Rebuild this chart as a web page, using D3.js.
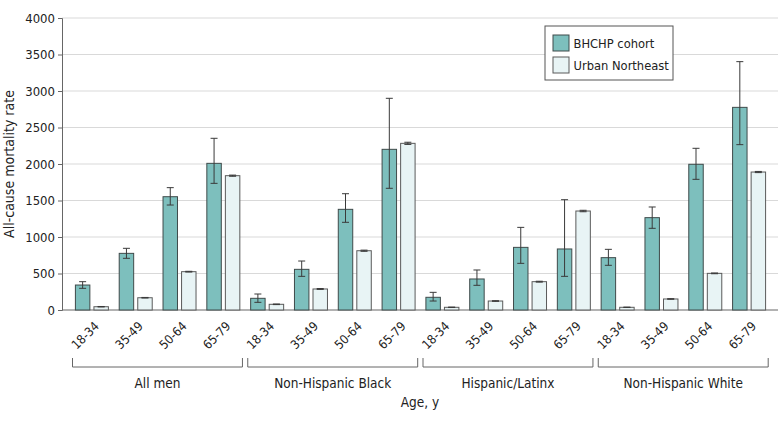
<!DOCTYPE html>
<html><head>
<meta charset="UTF-8">
<title>All-cause mortality rate by age</title>
<script src="https://d3js.org/d3.v7.min.js"></script>
<style>
  body { margin: 0; background: #fff; }
  svg text { font-family: "DejaVu Sans Condensed", "Liberation Sans", sans-serif; fill: #222; }
  .grid line { stroke: #d9d9d9; stroke-width: 1.2px; }
  .err { stroke: #3a3a3a; stroke-width: 1px; }
</style>
</head>
<body>
<script>

// groups and age bands (x axis)
var groups = ["All men", "Non-Hispanic Black", "Hispanic/Latinx", "Non-Hispanic White"];
var ages = ["18-34", "35-49", "50-64", "65-79"];
var series = ["BHCHP cohort", "Urban Northeast"];

// rates, one per group x age band
var bhchp   = [342, 776, 1552, 2009,  160, 557, 1379, 2201,  174, 425, 858, 836,   717, 1265, 1996, 2776];
var bhchpLo = [297, 708, 1438, 1735,  105, 461, 1201, 1667,  123, 338, 639, 461,   612, 1119, 1790, 2265];
var bhchpHi = [388, 845, 1676, 2352,  219, 671, 1593, 2900,  242, 548, 1132, 1511, 831, 1411, 2215, 3402];

var urban   = [45, 168, 525, 1840,  78, 288, 812, 2283,  37, 123, 388, 1356,  37, 151, 502, 1890];
var urbanLo = [42, 164, 520, 1832,  74, 282, 804, 2268,  34, 119, 382, 1346,  35, 147, 497, 1882];
var urbanHi = [48, 172, 530, 1848,  82, 294, 820, 2298,  40, 127, 394, 1366,  39, 155, 507, 1898];

var yTicks = [0, 500, 1000, 1500, 2000, 2500, 3000, 3500, 4000];

var colors = {bhchp: "#7dbfbd", urban: "#e8f4f5"};

var width = 780, height = 423;
var plotLeft = 62, plotRight = 778, plotTop = 18, plotBottom = 310;

var svg = d3.select("body").append("svg")
    .attr("width", width)
    .attr("height", height);

// one cell per group x age
var cells = d3.range(groups.length * ages.length);

var x = d3.scaleBand()
    .domain(cells)
    .range([70, 771]);

var inner = d3.scaleBand()
    .domain(series)
    .range([5.4, 38.4])
    .paddingInner(0.22);

var y = d3.scaleLinear()
    .domain([0, 4000])
    .range([plotBottom, plotTop]);

// grid lines
svg.append("g").attr("class", "grid")
  .selectAll("line")
  .data(yTicks.slice(1))
  .enter().append("line")
    .attr("x1", plotLeft).attr("x2", plotRight)
    .attr("y1", function(d){ return y(d); })
    .attr("y2", function(d){ return y(d); });

// y axis
var yAxis = d3.axisLeft(y).tickValues(yTicks).tickFormat(d3.format("d")).tickSize(4).tickPadding(3);
var gy = svg.append("g")
    .attr("transform", "translate(" + plotLeft + ",0)")
    .call(yAxis);
gy.select(".domain").attr("stroke", "#666");
gy.selectAll(".tick line").attr("stroke", "#666");
gy.selectAll(".tick text")
    .style("font-size", "13px")
    .style("font-family", "\"DejaVu Sans Condensed\", sans-serif")
    .attr("fill", "#222");

// baseline
svg.append("line")
    .attr("x1", plotLeft).attr("x2", plotRight)
    .attr("y1", plotBottom).attr("y2", plotBottom)
    .attr("stroke", "#666");

// y title
svg.append("text")
    .attr("transform", "translate(14," + ((plotTop + plotBottom) / 2) + ") rotate(-90)")
    .attr("text-anchor", "middle")
    .style("font-size", "14px")
    .text("All-cause mortality rate");

// bars
function drawSeries(vals, lo, hi, name, fill, stroke) {
  var g = svg.append("g");
  g.selectAll("rect")
    .data(cells)
    .enter().append("rect")
      .attr("x", function(i){ return x(i) + inner(name); })
      .attr("y", function(i){ return y(vals[i]); })
      .attr("width", inner.bandwidth())
      .attr("height", function(i){ return y(0) - y(vals[i]); })
      .attr("fill", fill)
      .attr("stroke", stroke)
      .attr("stroke-width", 1);

  // error bars
  var e = g.selectAll(".errbar")
    .data(cells)
    .enter().append("g").attr("class", "err");
  var cx = function(i){ return x(i) + inner(name) + inner.bandwidth() / 2; };
  e.append("line")
    .attr("x1", cx).attr("x2", cx)
    .attr("y1", function(i){ return y(lo[i]); })
    .attr("y2", function(i){ return y(hi[i]); });
  e.append("line")
    .attr("x1", function(i){ return cx(i) - 3.5; })
    .attr("x2", function(i){ return cx(i) + 3.5; })
    .attr("y1", function(i){ return y(hi[i]); })
    .attr("y2", function(i){ return y(hi[i]); });
  e.append("line")
    .attr("x1", function(i){ return cx(i) - 3.5; })
    .attr("x2", function(i){ return cx(i) + 3.5; })
    .attr("y1", function(i){ return y(lo[i]); })
    .attr("y2", function(i){ return y(lo[i]); });
}

drawSeries(bhchp, bhchpLo, bhchpHi, series[0], colors.bhchp, "#3f4a4a");
drawSeries(urban, urbanLo, urbanHi, series[1], colors.urban, "#5a5a5a");

// age tick labels, rotated
svg.append("g").selectAll("text")
  .data(cells)
  .enter().append("text")
    .attr("transform", function(i){
      return "translate(" + (x(i) + x.bandwidth() / 2 + 8) + "," + (plotBottom + 17) + ") rotate(-45)";
    })
    .attr("text-anchor", "end")
    .style("font-size", "12.5px")
    .text(function(i){ return ages[i % ages.length]; });

// group brackets
var br = svg.append("g");
groups.forEach(function(name, g){
  var x1 = x(g * ages.length) + 2.5;
  var x2 = x(g * ages.length + ages.length - 1) + x.bandwidth() - 2.8;
  br.append("path")
    .attr("d", "M" + x1 + ",358V367H" + x2 + "V358")
    .attr("fill", "none")
    .attr("stroke", "#666");
  br.append("text")
    .attr("x", (x1 + x2) / 2)
    .attr("y", 388)
    .attr("text-anchor", "middle")
    .style("font-size", "13.5px")
    .text(name);
});

// x title
svg.append("text")
    .attr("x", (plotLeft + plotRight) / 2)
    .attr("y", 407)
    .attr("text-anchor", "middle")
    .style("font-size", "13.5px")
    .text("Age, y");

// legend
var lg = svg.append("g").attr("transform", "translate(545,26)");
lg.append("rect")
    .attr("width", 128).attr("height", 54)
    .attr("fill", "#fff")
    .attr("stroke", "#555");
var items = lg.selectAll(".item")
  .data(series)
  .enter().append("g")
    .attr("transform", function(d, i){ return "translate(8," + (9 + i * 22) + ")"; });
items.append("rect")
    .attr("width", 16).attr("height", 16)
    .attr("fill", function(d, i){ return i == 0 ? colors.bhchp : colors.urban; })
    .attr("stroke", function(d, i){ return i == 0 ? "#3f4a4a" : "#5a5a5a"; });
items.append("text")
    .attr("x", 20.5)
    .attr("y", 13)
    .style("font-size", "12.8px")
    .text(function(d){ return d; });

</script>
</body>
</html>
